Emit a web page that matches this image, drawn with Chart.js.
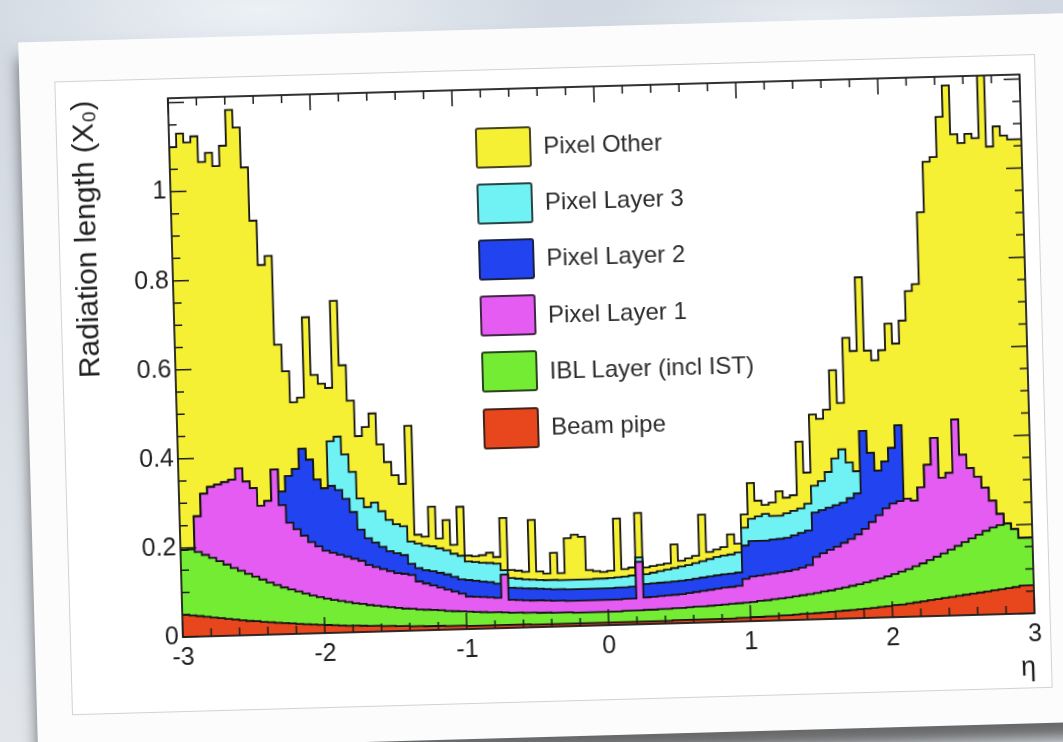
<!DOCTYPE html>
<html>
<head>
<meta charset="utf-8">
<title>Radiation length vs eta</title>
<script src="https://cdn.jsdelivr.net/npm/chart.js@4.4.0/dist/chart.umd.min.js"></script>
<style>
  html, body { margin: 0; width: 1063px; height: 742px; overflow: hidden; }
  body {
    position: relative;
    font-family: 'Liberation Sans', Arial, sans-serif;
    background:
      radial-gradient(ellipse 420px 120px at 260px 10px, rgba(240,244,248,0.9), rgba(240,244,248,0) 70%),
      radial-gradient(ellipse 300px 90px at 820px 20px, rgba(236,240,245,0.8), rgba(236,240,245,0) 70%),
      linear-gradient(180deg, #d2d9e2 0%, #dae0e7 50%, #e2e6eb 100%);
  }
  #card {
    position: absolute;
    left: 28px; top: 28px;
    width: 1062px; height: 709px;
    background: #fcfcfc;
    transform-origin: 512px 357px;
    transform: rotate(-1.6deg);
    box-shadow: 0 16px 14px rgba(50, 50, 50, 0.7);
    filter: blur(0.45px);
  }
  #frame {
    position: absolute;
    left: 35px; top: 40px;
    width: 979px; height: 632px;
    border: 1px solid #d2d2d2;
    background: #fff;
  }
  #chart { position: absolute; left: 0; top: 0; }
  #legend {
    position: absolute;
    left: 418px; top: 49px;
  }
  .legend-row { display: flex; align-items: center; height: 56.2px; }
  .swatch {
    width: 56px; height: 41px;
    box-sizing: border-box;
    border: 2.5px solid rgba(25, 25, 25, 0.8);
    border-radius: 3px;
  }
  .legend-label { margin-left: 12px; font-size: 24px; color: #2c2c2c; white-space: nowrap; }
</style>
</head>
<body>
<div id="card">
  <div id="frame">
    <canvas id="chart" width="979" height="632"></canvas>
    <div id="legend"></div>
  </div>
</div>
<script>
// Binning: 120 bins of 0.05 in eta from -3 to 3
const etaMin = -3;
const binWidth = 0.05;
const etaEdges = Array.from({ length: 121 }, (_, i) => +(etaMin + i * binWidth).toFixed(2));

// Tick labels
const xTicks = [-3, -2, -1, 0, 1, 2, 3];
const yTicks = [0, 0.2, 0.4, 0.6, 0.8, 1];

// Radiation length per layer (X0), one value per bin
const beamPipe = [
  0.052, 0.050, 0.048, 0.046, 0.044, 0.042, 0.040, 0.038, 0.036, 0.034,
  0.032, 0.031, 0.029, 0.028, 0.026, 0.025, 0.024, 0.022, 0.021, 0.020,
  0.019, 0.018, 0.017, 0.016, 0.015, 0.015, 0.014, 0.013, 0.013, 0.012,
  0.012, 0.011, 0.011, 0.010, 0.010, 0.009, 0.009, 0.009, 0.008, 0.008,
  0.008, 0.007, 0.007, 0.007, 0.007, 0.007, 0.007, 0.007, 0.007, 0.007,
  0.006, 0.006, 0.006, 0.006, 0.006, 0.006, 0.006, 0.006, 0.006, 0.006,
  0.006, 0.006, 0.006, 0.006, 0.006, 0.006, 0.006, 0.006, 0.006, 0.006,
  0.007, 0.007, 0.007, 0.007, 0.007, 0.007, 0.007, 0.007, 0.007, 0.008,
  0.008, 0.009, 0.009, 0.010, 0.010, 0.011, 0.011, 0.012, 0.013, 0.013,
  0.014, 0.015, 0.016, 0.017, 0.018, 0.019, 0.020, 0.021, 0.022, 0.024,
  0.025, 0.027, 0.028, 0.030, 0.032, 0.034, 0.036, 0.038, 0.040, 0.042,
  0.044, 0.046, 0.048, 0.050, 0.052, 0.054, 0.056, 0.058, 0.060, 0.063
];
const iblLayer = [
  0.136, 0.145, 0.148, 0.144, 0.139, 0.134, 0.128, 0.122, 0.116, 0.111,
  0.106, 0.100, 0.095, 0.089, 0.085, 0.080, 0.076, 0.073, 0.069, 0.065,
  0.062, 0.059, 0.057, 0.055, 0.053, 0.050, 0.049, 0.047, 0.045, 0.044,
  0.042, 0.041, 0.039, 0.039, 0.037, 0.037, 0.036, 0.035, 0.034, 0.033,
  0.032, 0.032, 0.031, 0.030, 0.029, 0.029, 0.028, 0.027, 0.027, 0.026,
  0.027, 0.026, 0.026, 0.025, 0.025, 0.025, 0.024, 0.024, 0.024, 0.024,
  0.024, 0.024, 0.024, 0.025, 0.025, 0.025, 0.026, 0.026, 0.027, 0.027,
  0.027, 0.027, 0.028, 0.029, 0.029, 0.030, 0.031, 0.032, 0.033, 0.033,
  0.034, 0.034, 0.036, 0.036, 0.038, 0.038, 0.040, 0.041, 0.042, 0.044,
  0.045, 0.047, 0.048, 0.050, 0.052, 0.054, 0.056, 0.059, 0.062, 0.064,
  0.067, 0.070, 0.074, 0.077, 0.081, 0.085, 0.090, 0.095, 0.100, 0.106,
  0.112, 0.118, 0.124, 0.130, 0.136, 0.141, 0.144, 0.145, 0.130, 0.107
];
const pixelLayer1 = [
  0, 0, 0, 0.080, 0.137, 0.159, 0.172, 0.185, 0.198, 0.230,
  0.207, 0.199, 0.166, 0.183, 0.259, 0.185, 0.150, 0.140, 0.130, 0.120,
  0.114, 0.108, 0.106, 0.104, 0.102, 0.100, 0.097, 0.090, 0.087, 0.084,
  0.081, 0.078, 0.078, 0.076, 0.063, 0.059, 0.055, 0.051, 0.048, 0.044,
  0.040, 0.034, 0.034, 0.034, 0.034, 0.032, 0.085, 0.029, 0.028, 0.028,
  0.027, 0.028, 0.027, 0.027, 0.027, 0.026, 0.027, 0.027, 0.027, 0.027,
  0.027, 0.027, 0.027, 0.027, 0.027, 0.109, 0.028, 0.029, 0.029, 0.030,
  0.030, 0.031, 0.032, 0.033, 0.035, 0.036, 0.037, 0.038, 0.038, 0.039,
  0.053, 0.057, 0.057, 0.058, 0.058, 0.059, 0.059, 0.060, 0.062, 0.065,
  0.081, 0.086, 0.091, 0.095, 0.100, 0.105, 0.112, 0.120, 0.131, 0.142,
  0.153, 0.158, 0.158, 0.158, 0.147, 0.171, 0.214, 0.267, 0.170, 0.172,
  0.284, 0.196, 0.158, 0.130, 0.097, 0.060, 0.025, 0, 0, 0
];
const pixelLayer2 = [
  0, 0, 0, 0, 0, 0, 0, 0, 0, 0,
  0, 0, 0, 0, 0, 0.030, 0.105, 0.135, 0.195, 0.185,
  0.150, 0.140, 0.150, 0.145, 0.130, 0.105, 0.070, 0.060, 0.055, 0.050,
  0.045, 0.045, 0.042, 0.025, 0.030, 0.030, 0.032, 0.033, 0.034, 0.033,
  0.032, 0.037, 0.036, 0.035, 0.034, 0.032, 0, 0.027, 0.027, 0.027,
  0.027, 0.026, 0.026, 0.026, 0.026, 0.026, 0.026, 0.026, 0.026, 0.026,
  0.026, 0.026, 0.027, 0.026, 0.027, 0, 0.030, 0.030, 0.030, 0.030,
  0.030, 0.030, 0.030, 0.030, 0.030, 0.030, 0.030, 0.030, 0.030, 0.030,
  0.075, 0.080, 0.078, 0.076, 0.076, 0.075, 0.075, 0.077, 0.078, 0.078,
  0.100, 0.097, 0.095, 0.093, 0.090, 0.092, 0.092, 0.220, 0.155, 0.100,
  0.105, 0.125, 0.170, 0, 0, 0, 0, 0, 0, 0,
  0, 0, 0, 0, 0, 0, 0, 0, 0, 0
];
const pixelLayer3 = [
  0, 0, 0, 0, 0, 0, 0, 0, 0, 0,
  0, 0, 0, 0, 0, 0, 0, 0, 0, 0,
  0, 0, 0.100, 0.120, 0.100, 0.090, 0.070, 0.070, 0.090, 0.080,
  0.070, 0.065, 0.065, 0.050, 0.055, 0.055, 0.056, 0.055, 0.054, 0.052,
  0.053, 0.042, 0.042, 0.042, 0.043, 0.045, 0.010, 0.022, 0.021, 0.020,
  0.020, 0.020, 0.020, 0.021, 0.020, 0.021, 0.021, 0.021, 0.021, 0.022,
  0.022, 0.023, 0.023, 0.024, 0.025, 0.010, 0.022, 0.024, 0.026, 0.028,
  0.030, 0.032, 0.033, 0.035, 0.037, 0.039, 0.041, 0.042, 0.043, 0.045,
  0.040, 0.050, 0.055, 0.060, 0.053, 0.052, 0.055, 0.055, 0.055, 0.060,
  0.060, 0.065, 0.080, 0.105, 0.120, 0.080, 0.050, 0, 0, 0,
  0, 0, 0, 0, 0, 0, 0, 0, 0, 0,
  0, 0, 0, 0, 0, 0, 0, 0, 0, 0
];
const pixelOther = [
  0.877, 0.905, 0.934, 0.840, 0.803, 0.730, 0.745, 0.710, 0.750, 0.805,
  0.795, 0.720, 0.640, 0.530, 0.480, 0.330, 0.235, 0.150, 0.115, 0.320,
  0.235, 0.235, 0.120, 0.305, 0.200, 0.160, 0.140, 0.180, 0.200, 0.150,
  0.130, 0.110, 0.095, 0.260, 0.020, 0.020, 0.089, 0.022, 0.068, 0.020,
  0.110, 0.013, 0.013, 0.017, 0.023, 0.015, 0.117, 0.018, 0.018, 0.017,
  0.134, 0.019, 0.015, 0.061, 0.016, 0.094, 0.101, 0.096, 0.021, 0.017,
  0.015, 0.016, 0.132, 0.017, 0.018, 0.100, 0.015, 0.015, 0.014, 0.014,
  0.053, 0.013, 0.015, 0.016, 0.104, 0.016, 0.017, 0.019, 0.045, 0.020,
  0.030, 0.080, 0.035, 0.020, 0.030, 0.055, 0.035, 0.035, 0.150, 0.070,
  0.160, 0.140, 0.140, 0.198, 0.104, 0.280, 0.270, 0.345, 0.230, 0.248,
  0.250, 0.279, 0.184, 0.400, 0.471, 0.456, 0.567, 0.620, 0.720, 0.800,
  0.750, 0.720, 0.730, 0.770, 0.785, 0.985, 0.825, 0.892, 0.884, 0.895
];

// Stack order, bottom first
const layers = [
  { label: 'Beam pipe', values: beamPipe, color: '#e8461c' },
  { label: 'IBL Layer (incl IST)', values: iblLayer, color: '#74ec34' },
  { label: 'Pixel Layer 1', values: pixelLayer1, color: '#e45cf2' },
  { label: 'Pixel Layer 2', values: pixelLayer2, color: '#2244f0' },
  { label: 'Pixel Layer 3', values: pixelLayer3, color: '#70f1f3' },
  { label: 'Pixel Other', values: pixelOther, color: '#f6f035' }
];

// histogram steps: one point per bin low edge, plus the last edge
function toSteps(values) {
  const pts = values.map((v, i) => ({ x: etaEdges[i], y: v }));
  pts.push({ x: etaEdges[values.length], y: values[values.length - 1] });
  return pts;
}

// ROOT-style frame with inward ticks on all four sides
const frameTicks = {
  id: 'frameTicks',
  afterDatasetsDraw(chart) {
    const { ctx, chartArea: a, scales: { x, y } } = chart;
    ctx.save();
    ctx.strokeStyle = '#1c1c1c';
    ctx.lineWidth = 1.5;
    ctx.beginPath();
    for (let k = 0; k <= 30; k++) {
      const px = x.getPixelForValue(-3 + k * 0.2);
      const len = k % 5 === 0 ? 16 : 8;
      ctx.moveTo(px, a.bottom); ctx.lineTo(px, a.bottom - len);
      ctx.moveTo(px, a.top); ctx.lineTo(px, a.top + len);
    }
    for (let k = 0; k <= 24; k++) {
      const py = y.getPixelForValue(k * 0.05);
      const len = k % 4 === 0 ? 16 : 8;
      ctx.moveTo(a.left, py); ctx.lineTo(a.left + len, py);
      ctx.moveTo(a.right, py); ctx.lineTo(a.right - len, py);
    }
    ctx.stroke();
    ctx.lineWidth = 1.8;
    ctx.strokeRect(a.left, a.top, a.right - a.left, a.bottom - a.top);
    ctx.restore();
  }
};

Chart.defaults.font.family = "'Liberation Sans', Arial, sans-serif";
Chart.defaults.color = '#1f1f1f';

new Chart(document.getElementById('chart'), {
  type: 'line',
  data: {
    datasets: layers.map((l, i) => ({
      label: l.label,
      data: toSteps(l.values),
      backgroundColor: l.color,
      borderColor: '#141414',
      borderWidth: 1.8,
      stepped: 'after',
      fill: i === 0 ? 'origin' : '-1',
      pointRadius: 0
    }))
  },
  options: {
    responsive: false,
    animation: false,
    events: [],
    layout: { padding: { left: 0, top: 13, right: 15, bottom: 0 } },
    plugins: {
      legend: { display: false },
      tooltip: { enabled: false }
    },
    scales: {
      x: {
        type: 'linear',
        min: -3,
        max: 3,
        grid: { display: false, drawTicks: false },
        border: { display: false },
        afterBuildTicks: axis => { axis.ticks = xTicks.map(v => ({ value: v })); },
        afterFit: axis => { axis.height = 74; },
        ticks: {
          font: { size: 25 },
          padding: 6,
          maxRotation: 0,
          callback: v => String(v)
        },
        title: {
          display: true,
          text: 'η',
          align: 'end',
          font: { size: 27 },
          padding: { top: 0, bottom: 3 }
        }
      },
      y: {
        stacked: true,
        min: 0,
        max: 1.21,
        grid: { display: false, drawTicks: false },
        border: { display: false },
        afterBuildTicks: axis => { axis.ticks = yTicks.map(v => ({ value: v })); },
        afterFit: axis => { axis.width = 112; },
        ticks: {
          font: { size: 25 },
          padding: 4,
          callback: v => String(v)
        },
        title: {
          display: true,
          text: 'Radiation length (X₀)',
          align: 'end',
          font: { size: 30 },
          padding: { top: 10, bottom: 0 }
        }
      }
    }
  },
  plugins: [frameTicks]
});

// Legend, drawn top to bottom as in the figure
const legendEl = document.getElementById('legend');
layers.slice().reverse().forEach(l => {
  const row = document.createElement('div');
  row.className = 'legend-row';
  const sw = document.createElement('div');
  sw.className = 'swatch';
  sw.style.background = l.color;
  const txt = document.createElement('span');
  txt.className = 'legend-label';
  txt.textContent = l.label;
  row.appendChild(sw);
  row.appendChild(txt);
  legendEl.appendChild(row);
});
</script>
</body>
</html>
